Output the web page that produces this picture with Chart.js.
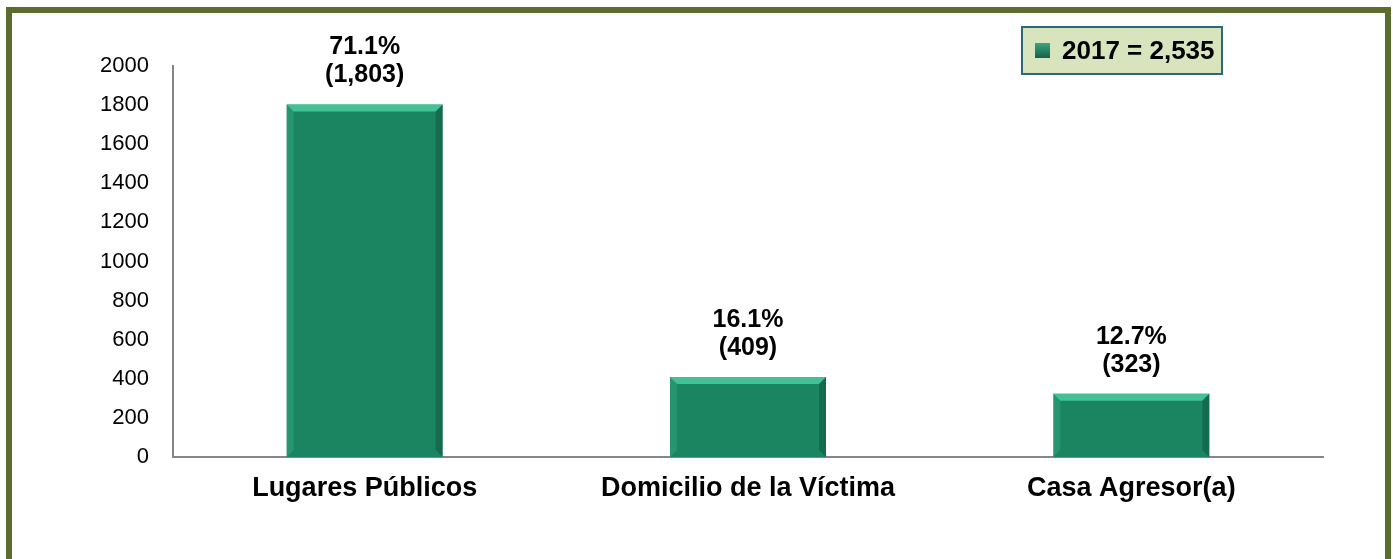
<!DOCTYPE html>
<html lang="es">
<head>
<meta charset="UTF-8" />
<title>Lugares</title>
<script src="https://cdn.jsdelivr.net/npm/chart.js"></script>
<style>
  * { margin: 0; padding: 0; box-sizing: border-box; }
  body { background: #fff; width: 1393px; height: 559px; overflow: hidden; position: relative; }
  .frame {
    position: absolute; left: 6px; top: 7px; width: 1385px; height: 620px;
    border: 6px solid #5a6d2c; pointer-events: none;
  }
  .chart-box { position: absolute; left: 0; top: 0; width: 1393px; height: 559px; }
</style>
</head>
<body>
<div class="chart-box"><canvas id="barChart"></canvas></div>
<div class="frame"></div>

<script>
  // data
  const categories = ["Lugares Públicos", "Domicilio de la Víctima", "Casa Agresor(a)"];
  const counts = [1803, 409, 323];
  const percents = ["71.1%", "16.1%", "12.7%"];
  const countLabels = ["(1,803)", "(409)", "(323)"];
  const legendText = "2017 = 2,535";
  const yTicks = [0, 200, 400, 600, 800, 1000, 1200, 1400, 1600, 1800, 2000];

  const FONT = "'Liberation Sans', Arial, sans-serif";

  // textured-ish green fill for each bar
  function barFill(ctx) {
    const el = ctx.element;
    const c = ctx.chart.ctx;
    if (!el || !isFinite(el.x) || !el.width) return '#1b8561';
    const l = el.x - el.width / 2, r = el.x + el.width / 2;
    const g = c.createLinearGradient(l, 0, r, 0);
    g.addColorStop(0, '#16735a');
    g.addColorStop(0.15, '#1c8c68');
    g.addColorStop(0.45, '#1a8262');
    g.addColorStop(0.7, '#1f8f6a');
    g.addColorStop(1, '#156e55');
    return g;
  }

  // bevel highlights on the bars
  const bevel = {
    id: 'bevel',
    afterDatasetsDraw(chart) {
      const ctx = chart.ctx;
      chart.getDatasetMeta(0).data.forEach(bar => {
        const l = bar.x - bar.width / 2, r = bar.x + bar.width / 2;
        const t = bar.y, b = bar.base, d = 7;
        ctx.save();
        ctx.fillStyle = 'rgba(80,215,165,0.75)';
        ctx.beginPath();
        ctx.moveTo(l, t); ctx.lineTo(r, t); ctx.lineTo(r - d, t + d); ctx.lineTo(l + d, t + d);
        ctx.closePath(); ctx.fill();
        ctx.fillStyle = 'rgba(60,180,140,0.35)';
        ctx.beginPath();
        ctx.moveTo(l, t); ctx.lineTo(l + d, t + d); ctx.lineTo(l + d, b - d); ctx.lineTo(l, b);
        ctx.closePath(); ctx.fill();
        ctx.fillStyle = 'rgba(10,60,45,0.35)';
        ctx.beginPath();
        ctx.moveTo(r, t); ctx.lineTo(r - d, t + d); ctx.lineTo(r - d, b - d); ctx.lineTo(r, b);
        ctx.closePath(); ctx.fill();
        ctx.restore();
      });
    }
  };

  // percent + count above bars
  const valueLabels = {
    id: 'valueLabels',
    afterDatasetsDraw(chart) {
      const ctx = chart.ctx;
      ctx.save();
      ctx.font = "bold 25px " + FONT;
      ctx.fillStyle = '#000';
      ctx.textAlign = 'center';
      ctx.textBaseline = 'middle';
      chart.getDatasetMeta(0).data.forEach((bar, i) => {
        ctx.fillText(percents[i], bar.x, bar.y - 57);
        ctx.fillText(countLabels[i], bar.x, bar.y - 29);
      });
      ctx.restore();
    }
  };

  // boxed legend in the upper right
  const boxLegend = {
    id: 'boxLegend',
    afterDraw(chart) {
      const ctx = chart.ctx;
      const a = chart.chartArea;
      const x = a.right - 301, y = 27, w = 200, h = 47;
      ctx.save();
      ctx.fillStyle = '#d8e4bd';
      ctx.fillRect(x, y, w, h);
      ctx.strokeStyle = '#2e6878';
      ctx.lineWidth = 2;
      ctx.strokeRect(x, y, w, h);
      const g = ctx.createLinearGradient(0, y + 16, 0, y + 31);
      g.addColorStop(0, '#3aa57f');
      g.addColorStop(1, '#15604a');
      ctx.fillStyle = g;
      ctx.fillRect(x + 13, y + 16, 15, 15);
      ctx.font = "bold 26px " + FONT;
      ctx.fillStyle = '#000';
      ctx.textBaseline = 'middle';
      ctx.fillText(legendText, x + 40, y + h / 2 + 1);
      ctx.restore();
    }
  };

  new Chart(document.getElementById('barChart'), {
    type: 'bar',
    data: {
      labels: categories,
      datasets: [{
        label: legendText,
        data: counts,
        backgroundColor: barFill,
        barPercentage: 0.407,
        categoryPercentage: 1
      }]
    },
    options: {
      responsive: true,
      maintainAspectRatio: false,
      animation: false,
      layout: { padding: { top: 66, right: 70, left: 0, bottom: 0 } },
      plugins: {
        legend: { display: false },
        tooltip: { enabled: false }
      },
      scales: {
        x: {
          grid: { display: false, drawTicks: false },
          border: { display: true, color: '#868686', width: 2 },
          ticks: { color: '#000', font: { family: FONT, size: 27, weight: 'bold' }, padding: 15, maxRotation: 0 },
          afterFit(s) { s.height = 102; }
        },
        y: {
          min: 0,
          max: 2000,
          grid: { display: false, drawTicks: false },
          border: { display: true, color: '#868686', width: 2 },
          afterBuildTicks(s) { s.ticks = yTicks.map(v => ({ value: v })); },
          ticks: {
            color: '#000', font: { family: FONT, size: 22 }, padding: 24,
            callback: v => String(v)
          },
          afterFit(s) { s.width = 173; }
        }
      }
    },
    plugins: [bevel, valueLabels, boxLegend]
  });
</script>
</body>
</html>
